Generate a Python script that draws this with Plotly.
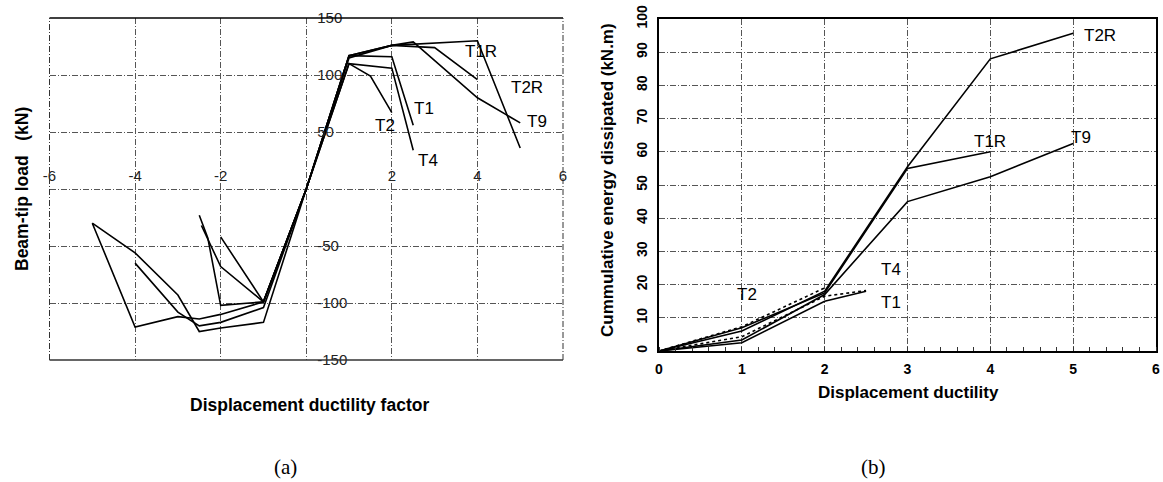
import plotly.graph_objects as go

W, H = 1163, 482

# ---------------- data: panel (a) envelope curves ----------------
a_x_T1 = [-2.45, -2, -1, 0, 1, 2, 2.5]
a_y_T1 = [-32, -68, -99, 0, 117, 116, 56]
a_x_T2 = [-2, -1, 0, 1, 1.5, 2]
a_y_T2 = [-42, -99, 0, 110, 99, 67]
a_x_T4 = [-2.5, -2.3, -2, -1, 0, 1, 2, 2.5]
a_y_T4 = [-23, -43, -102, -99, 0, 110, 106, 34]
a_x_T9 = [-5, -4, -3, -2.5, -2, -1, 0, 1, 2, 2.5, 4, 5]
a_y_T9 = [-30, -121, -112, -114, -110, -99, 0, 115, 126, 129, 80, 58]
a_x_T1R = [-4, -3, -2.5, -2, -1, 0, 1, 2, 3, 4]
a_y_T1R = [-65, -108, -120, -117, -104, 0, 117, 126, 124, 96]
a_x_T2R = [-5, -4, -3, -2.5, -2, -1, 0, 1, 2, 4, 5]
a_y_T2R = [-30, -56, -93, -125, -122, -117, 0, 117, 126, 130, 36]

a_xticks = [-6, -4, -2, 0, 2, 4, 6]
a_xticktext = ["-6", "-4", "-2", "", "2", "4", "6"]
a_yticks = [-150, -100, -50, 0, 50, 100, 150]
a_yticktext = ["-150", "-100", "-50", "", "50", "100", "150"]

# ---------------- data: panel (b) cumulative energy ----------------
b_x_T1 = [0, 1, 2, 2.5]
b_y_T1 = [0, 4.3, 16.5, 18.2]
b_x_T2 = [0, 1, 2]
b_y_T2 = [0, 7.3, 19]
b_x_T4 = [0, 1, 2, 2.5]
b_y_T4 = [0, 2.5, 15, 18]
b_x_T9 = [0, 1, 2, 3, 4, 5]
b_y_T9 = [0, 3.3, 17, 45, 52.5, 62.5]
b_x_T1R = [0, 1, 2, 3, 4]
b_y_T1R = [0, 7, 17.5, 55, 60]
b_x_T2R = [0, 1, 2, 3, 4, 5]
b_y_T2R = [0, 6, 18, 55.5, 88, 95.7]

b_xticks = [0, 1, 2, 3, 4, 5, 6]
b_yticks = [0, 10, 20, 30, 40, 50, 60, 70, 80, 90, 100]

# label positions (data coords)
a_labels = [("T1R", 4.09, 121), ("T2R", 5.16, 89), ("T9", 5.4, 59),
            ("T1", 2.76, 71), ("T2", 1.85, 56), ("T4", 2.85, 25)]
b_labels = [("T2R", 5.32, 95), ("T1R", 3.99, 63), ("T9", 5.09, 64.2),
            ("T2", 1.06, 17), ("T4", 2.8, 24.7), ("T1", 2.8, 14.5)]

FONT = "Liberation Sans, Arial, sans-serif"
SERIF = "Liberation Serif, Times New Roman, serif"
GRID = "#555555"
GDASH = "6px,2px,1px,2px"

fig = go.Figure()

def add_a(x, y):
    fig.add_trace(go.Scatter(x=x, y=y, mode="lines", xaxis="x", yaxis="y",
                             line=dict(color="black", width=1.6), showlegend=False,
                             hoverinfo="skip"))

def add_b(x, y, dash="solid"):
    fig.add_trace(go.Scatter(x=x, y=y, mode="lines", xaxis="x2", yaxis="y2",
                             line=dict(color="black", width=1.6, dash=dash),
                             showlegend=False, hoverinfo="skip"))

for xs, ys in [(a_x_T1, a_y_T1), (a_x_T2, a_y_T2), (a_x_T4, a_y_T4),
               (a_x_T9, a_y_T9), (a_x_T1R, a_y_T1R), (a_x_T2R, a_y_T2R)]:
    add_a(xs, ys)

add_b(b_x_T4, b_y_T4)
add_b(b_x_T1, b_y_T1, "dot")
add_b(b_x_T2, b_y_T2, "dot")
add_b(b_x_T9, b_y_T9)
add_b(b_x_T1R, b_y_T1R)
add_b(b_x_T2R, b_y_T2R)

# domains (paper fractions)
ax_dom = [49.5 / W, 563 / W]
ay_dom = [1 - 360 / H, 1 - 18 / H]
bx_dom = [659 / W, 1156 / W]
by_dom = [1 - 351 / H, 1 - 19 / H]

a_x0 = (ax_dom[0] + ax_dom[1]) / 2
a_y0 = (ay_dom[0] + ay_dom[1]) / 2

fig.update_layout(
    template="none",
    width=W, height=H, margin=dict(l=0, r=0, t=0, b=0, pad=0, autoexpand=False),
    paper_bgcolor="white", plot_bgcolor="white",
    font=dict(family=FONT, color="black"),
    xaxis=dict(domain=ax_dom, range=[-6, 6], anchor="free", position=a_y0,
               side="top", tickvals=a_xticks, ticktext=a_xticktext, automargin=False,
               showgrid=True, gridcolor=GRID, griddash=GDASH, gridwidth=1,
               zeroline=False, showline=False, ticks="", ticklabelstandoff=5,
               tickfont=dict(size=15, color="#222", family=FONT)),
    yaxis=dict(domain=ay_dom, range=[-150, 150], anchor="free", position=a_x0,
               side="right", tickvals=a_yticks, ticktext=a_yticktext, automargin=False,
               showgrid=True, gridcolor=GRID, griddash=GDASH, gridwidth=1,
               zeroline=False, showline=False, ticks="", ticklabelstandoff=10,
               tickfont=dict(size=15, color="#222", family=FONT)),
    xaxis2=dict(domain=bx_dom, range=[0, 6], anchor="y2", tickvals=b_xticks,
                automargin=False,
                showgrid=True, gridcolor=GRID, griddash=GDASH, gridwidth=1,
                zeroline=False, showline=True, mirror=True, linecolor="black",
                linewidth=2, ticks="", ticklabelstandoff=4,
                minor=dict(ticks="inside", dtick=0.2, ticklen=4, tickcolor="#333",
                           showgrid=False),
                tickfont=dict(size=14, family=FONT, weight="bold", color="black")),
    yaxis2=dict(domain=by_dom, range=[0, 100], anchor="x2", tickvals=b_yticks,
                automargin=False,
                showgrid=True, gridcolor=GRID, griddash=GDASH, gridwidth=1,
                zeroline=False, showline=True, mirror=True, linecolor="black",
                linewidth=2, ticks="", tickangle=-90, ticklabelstandoff=4,
                tickfont=dict(size=14, family=FONT, weight="bold", color="black")),
)

# frame of panel (a)
shapes = [
    dict(type="line", xref="x domain", yref="y domain", x0=0, x1=1, y0=1, y1=1,
         line=dict(color="black", width=1.5)),
    dict(type="line", xref="x domain", yref="y domain", x0=0, x1=1, y0=0, y1=0,
         line=dict(color="#333", width=1.5)),
    dict(type="line", xref="x domain", yref="y domain", x0=0, x1=0, y0=0, y1=1,
         line=dict(color="#333", width=1, dash=GDASH)),
    dict(type="line", xref="x domain", yref="y domain", x0=1, x1=1, y0=0, y1=1,
         line=dict(color="#333", width=1, dash=GDASH)),
]
fig.update_layout(shapes=shapes)

ann = []
for t, x, y in a_labels:
    ann.append(dict(text=t, x=x, y=y, xref="x", yref="y", showarrow=False,
                    xanchor="center", yanchor="middle",
                    font=dict(size=17, family=FONT, color="black")))
for t, x, y in b_labels:
    ann.append(dict(text=t, x=x, y=y, xref="x2", yref="y2", showarrow=False,
                    xanchor="center", yanchor="middle",
                    font=dict(size=17, family=FONT, color="black")))

def title(text, px, py, size, angle=0, family=FONT, bold=True):
    f = dict(size=size, family=family, color="black")
    if bold:
        f["weight"] = "bold"
    return dict(text=text, x=px / W, y=1 - py / H, xref="paper", yref="paper",
                xanchor="center", yanchor="middle", textangle=angle,
                showarrow=False, font=f)

ann += [
    title("Beam-tip load&nbsp;&nbsp;&nbsp;(kN)", 22, 189, 17.5, angle=-90),
    title("Displacement ductility factor", 309, 405, 17.5),
    title("Cummulative energy dissipated (kN.m)", 607, 180, 17, angle=-90),
    title("Displacement ductility", 908, 392, 17),
    title("(a)", 285, 467, 21, family=SERIF, bold=False),
    title("(b)", 873, 467, 21, family=SERIF, bold=False),
]
fig.update_layout(annotations=ann)

fig.write_html("out.html")
